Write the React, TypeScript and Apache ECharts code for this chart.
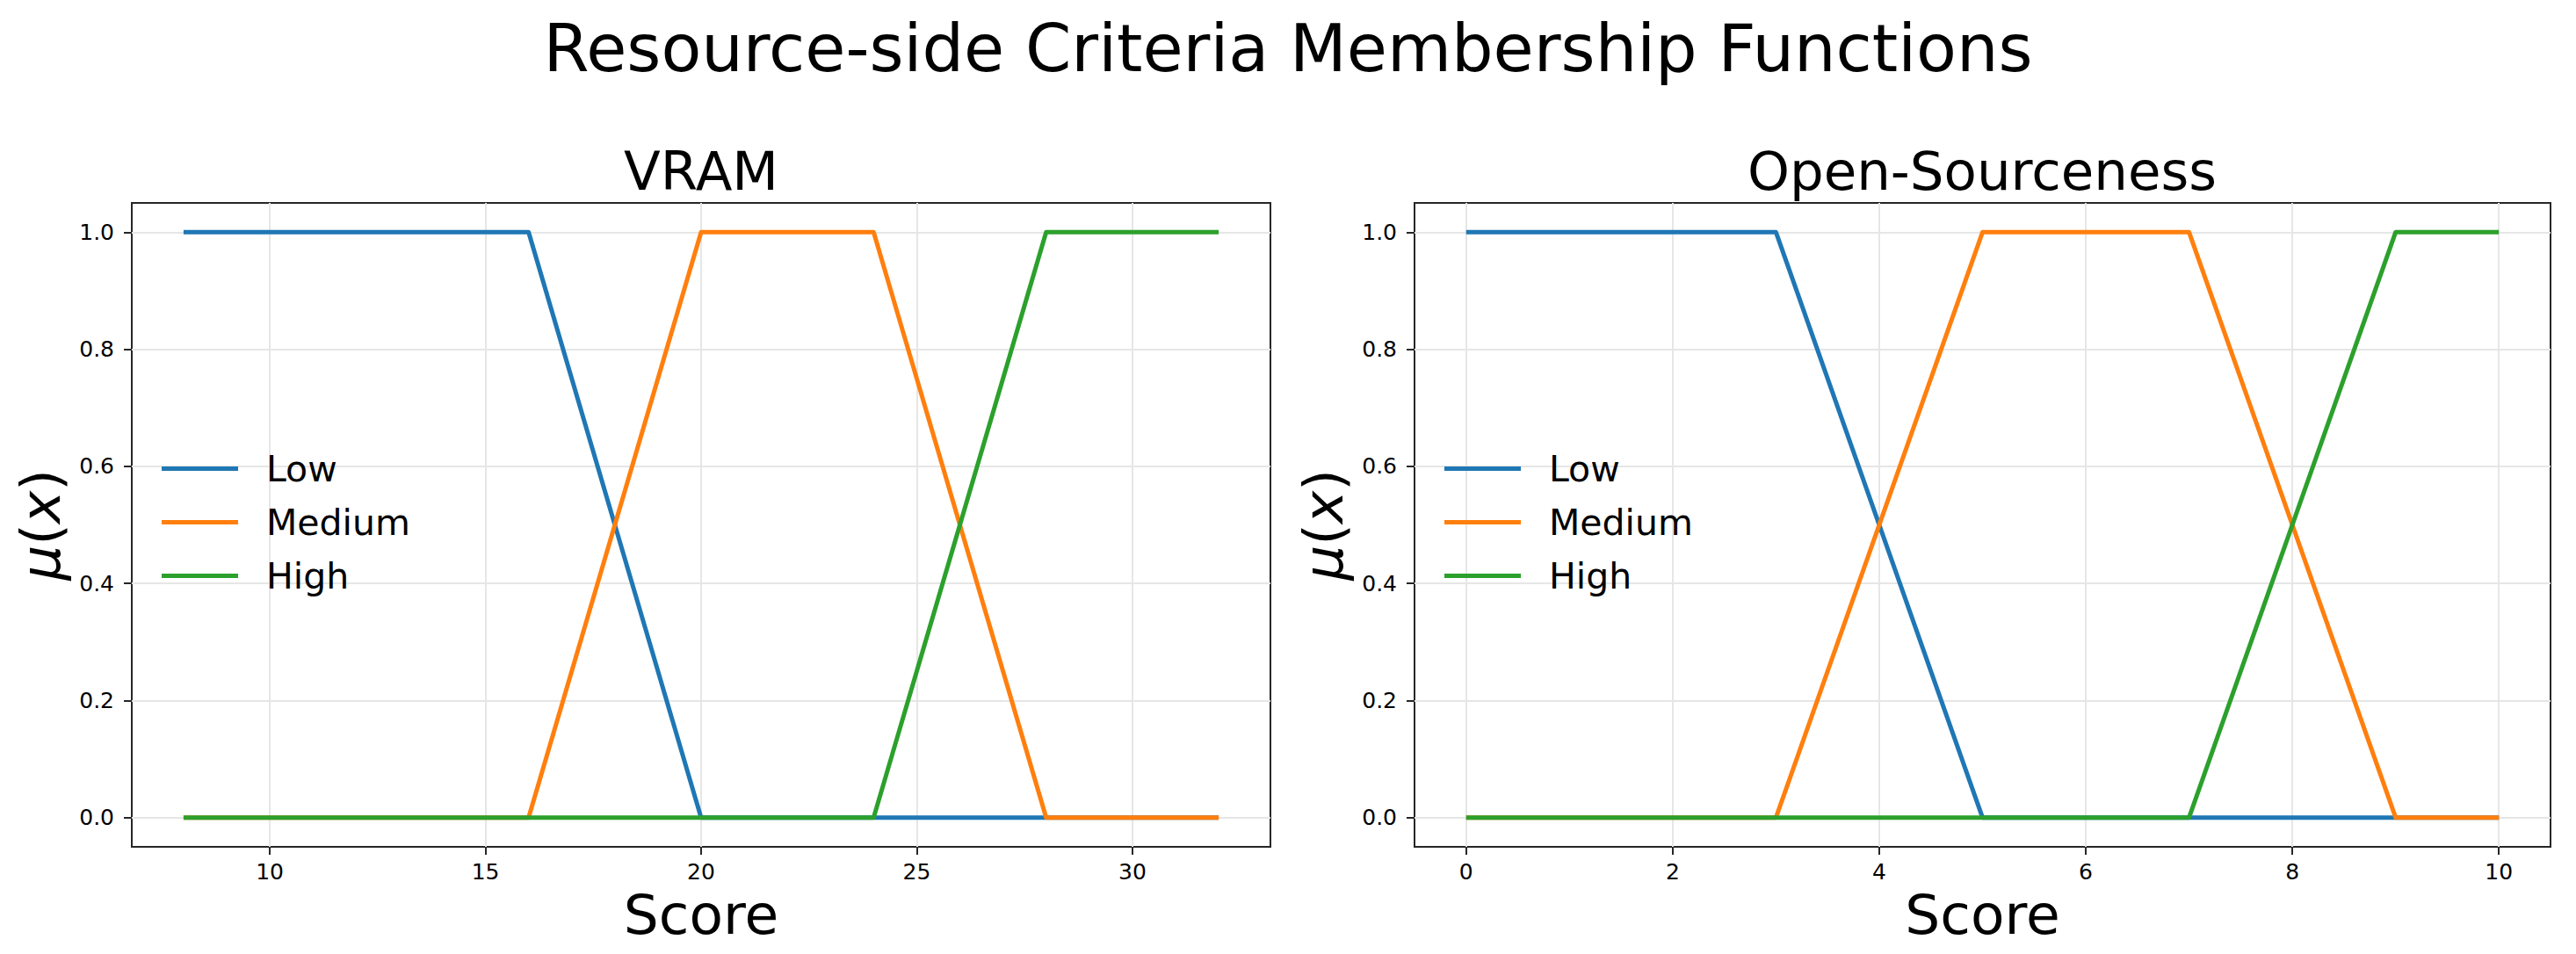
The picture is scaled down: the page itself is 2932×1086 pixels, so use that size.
import { useEffect, useRef } from "react";
import * as echarts from "echarts";

const levels = ["Low", "Medium", "High"];
const colors = ["#1f77b4", "#ff7f0e", "#2ca02c"];

// VRAM membership breakpoints [score, mu]
const vramLow = [[8, 1], [16, 1], [20, 0], [32, 0]];
const vramMedium = [[8, 0], [16, 0], [20, 1], [24, 1], [28, 0], [32, 0]];
const vramHigh = [[8, 0], [24, 0], [28, 1], [32, 1]];

// Open-sourceness membership breakpoints [score, mu]
const openLow = [[0, 1], [3, 1], [5, 0], [10, 0]];
const openMedium = [[0, 0], [3, 0], [5, 1], [7, 1], [9, 0], [10, 0]];
const openHigh = [[0, 0], [7, 0], [9, 1], [10, 1]];

const vramTicks = [10, 15, 20, 25, 30];
const openTicks = [0, 2, 4, 6, 8, 10];
const muTicks = [0, 0.2, 0.4, 0.6, 0.8, 1.0];

const FONT = "DejaVu Sans";
const INK = "#262626";
const GRID = "#e6e6e6";

function xAxisFor(gridIndex: number, min: number, max: number, ticks: number[]) {
  return {
    type: "value",
    gridIndex,
    position: "bottom",
    min,
    max,
    name: "Score",
    nameLocation: "middle",
    nameGap: 46,
    nameTextStyle: { fontFamily: FONT, fontSize: 63, lineHeight: 63, color: "#000" },
    axisLine: { show: false, onZero: false },
    axisTick: { show: true, inside: false, length: 9, customValues: ticks, lineStyle: { color: INK, width: 2 } },
    axisLabel: {
      customValues: ticks,
      margin: 16,
      fontFamily: FONT,
      fontSize: 25,
      color: "#000",
      formatter: (v: number) => String(v),
    },
    splitLine: { show: true, lineStyle: { color: GRID, width: 2 } },
  };
}

function yAxisFor(gridIndex: number) {
  return {
    type: "value",
    gridIndex,
    position: "left",
    min: -0.05,
    max: 1.05,
    name: "{i|μ}({i|x})",
    nameLocation: "middle",
    nameRotate: 90,
    nameGap: 72,
    nameTextStyle: {
      fontFamily: FONT,
      fontSize: 63,
      lineHeight: 63,
      color: "#000",
      rich: { i: { fontFamily: FONT, fontSize: 63, fontStyle: "italic", color: "#000" } },
    },
    axisLine: { show: false, onZero: false },
    axisTick: { show: true, inside: false, length: 9, customValues: muTicks, lineStyle: { color: INK, width: 2 } },
    axisLabel: {
      customValues: muTicks,
      margin: 20,
      fontFamily: FONT,
      fontSize: 25,
      color: "#000",
      formatter: (v: number) => v.toFixed(1),
    },
    splitLine: { show: true, lineStyle: { color: GRID, width: 2 } },
  };
}

function lineSeries(name: string, data: number[][], color: string, idx: number) {
  return {
    type: "line",
    name,
    data,
    xAxisIndex: idx,
    yAxisIndex: idx,
    symbol: "none",
    showSymbol: false,
    silent: true,
    lineStyle: { color, width: 5, join: "round" },
    itemStyle: { color },
    emphasis: { disabled: true },
  };
}

function legendAt(left: number) {
  return {
    data: levels,
    orient: "vertical",
    left,
    top: 513,
    padding: 0,
    itemGap: 20,
    itemWidth: 87,
    itemHeight: 5,
    icon: "rect",
    selectedMode: false,
    textStyle: { fontFamily: FONT, fontSize: 41, lineHeight: 41, color: "#000", padding: [0, 0, 0, 27] },
  };
}

function titleText(text: string, x: number, y: number, size: number) {
  return {
    type: "text",
    x,
    y,
    silent: true,
    style: {
      text,
      font: `${size}px "${FONT}"`,
      fill: "#000",
      textAlign: "center",
      textVerticalAlign: "middle",
      align: "center",
      verticalAlign: "middle",
    },
  };
}

const options = {
  animation: false,
  backgroundColor: "#fff",
  textStyle: { fontFamily: FONT },
  graphic: [
    titleText("Resource-side Criteria Membership Functions", 1466, 55, 75),
    titleText("VRAM", 798, 194, 61),
    titleText("Open-Sourceness", 2256, 194, 61),
  ],
  grid: [
    { left: 150, top: 231, width: 1296, height: 733, show: true, borderColor: INK, borderWidth: 2, backgroundColor: "transparent" },
    { left: 1610, top: 231, width: 1293, height: 733, show: true, borderColor: INK, borderWidth: 2, backgroundColor: "transparent" },
  ],
  xAxis: [xAxisFor(0, 6.8, 33.2, vramTicks), xAxisFor(1, -0.5, 10.5, openTicks)],
  yAxis: [yAxisFor(0), yAxisFor(1)],
  legend: [legendAt(184), legendAt(1644)],
  series: [
    lineSeries(levels[0], vramLow, colors[0], 0),
    lineSeries(levels[1], vramMedium, colors[1], 0),
    lineSeries(levels[2], vramHigh, colors[2], 0),
    lineSeries(levels[0], openLow, colors[0], 1),
    lineSeries(levels[1], openMedium, colors[1], 1),
    lineSeries(levels[2], openHigh, colors[2], 1),
  ],
};

function App() {
  const chartRef = useRef<HTMLDivElement>(null);
  useEffect(() => {
    const chart = echarts.init(chartRef.current!, null, { renderer: "svg" });
    chart.setOption(options as any);
    return () => {
      chart.dispose();
    };
  }, []);
  return (
    <div
      ref={chartRef}
      style={{ position: "absolute", left: 0, top: 0, width: "2932px", height: "1086px" }}
    />
  );
}

export default App;
